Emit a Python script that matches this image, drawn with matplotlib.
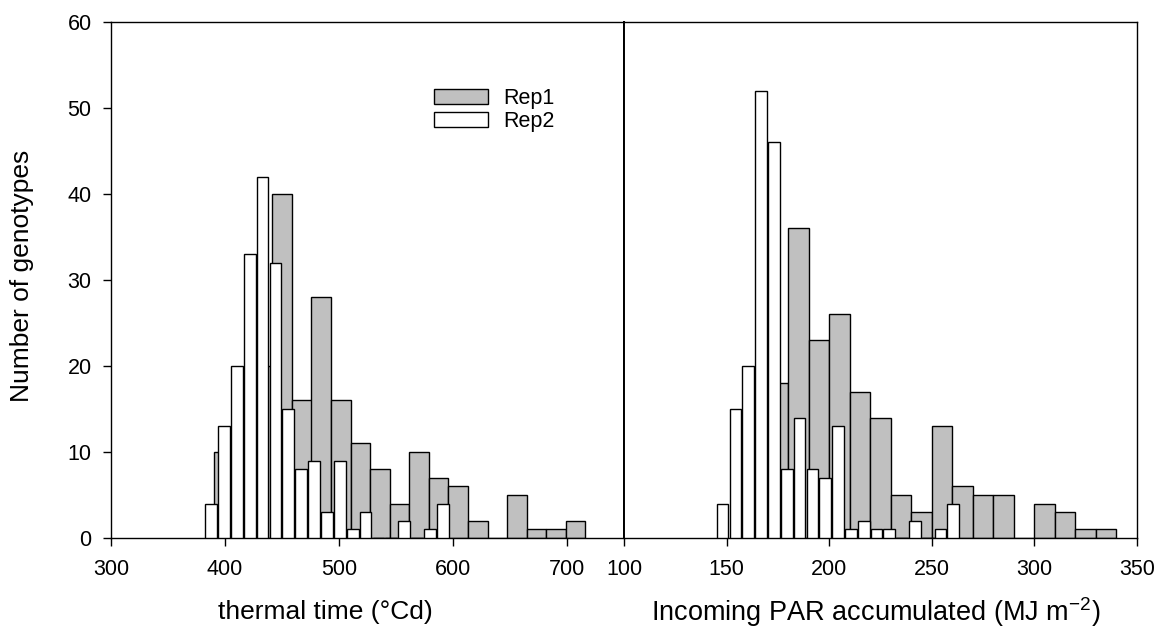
import matplotlib
matplotlib.use("Agg")
import matplotlib.pyplot as plt
from matplotlib.patches import Patch

plt.rcParams['font.family'] = ['Liberation Sans', 'DejaVu Sans']

# left panel: thermal time (degC d)
tt_rep1_x = [398.6, 415.8, 432.9, 450.1, 467.3, 484.4, 501.6, 518.8, 535.9, 553.1,
             570.3, 587.4, 604.6, 621.8, 638.9, 656.1, 673.3, 690.4, 707.6]
tt_rep1_n = [10, 12, 20, 40, 16, 28, 16, 11, 8, 4, 10, 7, 6, 2, 0, 5, 1, 1, 2]
tt_rep2_x = [387.8, 399.1, 410.4, 421.7, 433.0, 444.3, 455.5, 466.8, 478.1, 489.4,
             500.7, 512.0, 523.3, 534.6, 545.9, 557.2, 568.4, 579.7, 591.0]
tt_rep2_n = [4, 13, 20, 33, 42, 32, 15, 8, 9, 3, 9, 1, 3, 0, 0, 2, 0, 1, 4]

# right panel: incoming PAR accumulated (MJ m-2)
par_rep1_x = [165, 175, 185, 195, 205, 215, 225, 235, 245, 255,
              265, 275, 285, 295, 305, 315, 325, 335]
par_rep1_n = [19, 18, 36, 23, 26, 17, 14, 5, 3, 13, 6, 5, 5, 0, 4, 3, 1, 1]
par_rep2_x = [148.0, 154.3, 160.5, 166.8, 173.0, 179.3, 185.5, 191.8, 198.0, 204.3,
              210.5, 216.8, 223.0, 229.3, 235.5, 241.8, 248.0, 254.3, 260.5]
par_rep2_n = [4, 15, 20, 52, 46, 8, 14, 8, 7, 13, 1, 2, 1, 1, 0, 2, 0, 1, 4]

W, H = 1162, 637
fig = plt.figure(figsize=(W / 100, H / 100), dpi=100)
ax1 = fig.add_axes([111 / W, (H - 538) / H, 513 / W, 516 / H])
ax2 = fig.add_axes([624 / W, (H - 538) / H, 513 / W, 516 / H])

gray = '#c0c0c0'
ax1.bar(tt_rep1_x, tt_rep1_n, width=17.17, color=gray, edgecolor='black', linewidth=1.0, zorder=2)
ax1.bar(tt_rep2_x, tt_rep2_n, width=10.3, color='white', edgecolor='black', linewidth=1.0, zorder=3)
ax2.bar(par_rep1_x, par_rep1_n, width=10, color=gray, edgecolor='black', linewidth=1.0, zorder=2)
ax2.bar(par_rep2_x, par_rep2_n, width=5.7, color='white', edgecolor='black', linewidth=1.0, zorder=3)

ax1.set_xlim(300, 750)
ax2.set_xlim(100, 350)
for ax in (ax1, ax2):
    ax.set_ylim(0, 60)
    for s in ax.spines.values():
        s.set_linewidth(1.0)
        s.set_color('black')
    ax.tick_params(axis='x', direction='out', length=6, width=1, pad=9, labelsize=15.5)

ax1.set_xticks([300, 400, 500, 600, 700])
ax1.set_yticks(range(0, 61, 10))
ax1.tick_params(axis='y', direction='out', length=6, width=1, pad=8, labelsize=15.5)
ax1.spines['right'].set_linewidth(1.4)

ax2.set_xticks([100, 150, 200, 250, 300, 350])
ax2.set_yticks([])
ax2.spines['left'].set_linewidth(1.4)

handles = [Patch(facecolor=gray, edgecolor='black', linewidth=1.0, label='Rep1'),
           Patch(facecolor='white', edgecolor='black', linewidth=1.0, label='Rep2')]
ax1.legend(handles=handles, loc='upper left', bbox_to_anchor=(0.63, 0.872), frameon=False,
           fontsize=15.5, handlelength=2.5, handleheight=0.7, handletextpad=0.7,
           labelspacing=0.08, borderaxespad=0, borderpad=0)

fig.text(22 / W, 1 - 276 / H, 'Number of genotypes', rotation=90, ha='center', va='center', fontsize=19)
fig.text(325 / W, 1 - 612 / H, 'thermal time (°Cd)', ha='center', va='center', fontsize=19)
fig.text(876 / W, 1 - 612 / H, r'Incoming PAR accumulated (MJ m$^{\mathregular{-2}}$)',
         ha='center', va='center', fontsize=19.5)

fig.savefig('out.png', dpi=100)
